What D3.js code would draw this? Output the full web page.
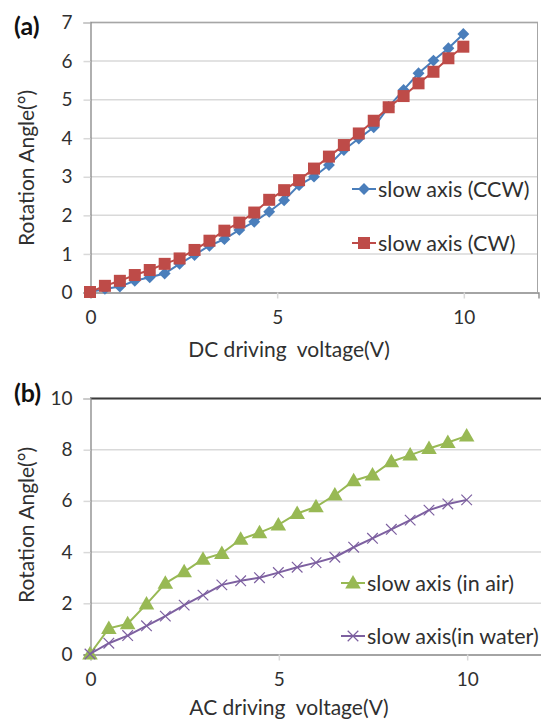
<!DOCTYPE html>
<html><head><meta charset="utf-8">
<script src="https://cdn.jsdelivr.net/npm/d3@7"></script>
<style>
body{margin:0;background:#fff;}
svg{display:block;font-family:Lato,"Open Sans",sans-serif;}
text{white-space:pre;}
</style></head>
<body><svg id="c" width="541" height="725"></svg>
<script>
// Panel (a) data: DC driving voltage
const dcVoltage = [0,0.4,0.8,1.2,1.6,2.0,2.4,2.8,3.2,3.6,4.0,4.4,4.8,5.2,5.6,6.0,6.4,6.8,7.2,7.6,8.0,8.4,8.8,9.2,9.6,10.0];
const ccw = [0,0.08,0.14,0.29,0.38,0.48,0.73,0.96,1.2,1.37,1.61,1.82,2.08,2.38,2.77,2.99,3.29,3.68,3.98,4.27,4.8,5.24,5.67,6.0,6.32,6.69];
const cw  = [0,0.16,0.29,0.44,0.57,0.73,0.87,1.09,1.33,1.59,1.8,2.06,2.39,2.64,2.9,3.2,3.51,3.81,4.11,4.44,4.79,5.08,5.41,5.71,6.06,6.36];
// Panel (b) data: AC driving voltage
const acVoltage = [0,0.5,1,1.5,2,2.5,3,3.5,4,4.5,5,5.5,6,6.5,7,7.5,8,8.5,9,9.5,10];
const inAir   = [0,1.0,1.18,1.95,2.76,3.21,3.7,3.93,4.48,4.74,5.04,5.49,5.75,6.21,6.77,6.99,7.51,7.77,8.03,8.26,8.52];
const inWater = [0,0.42,0.72,1.1,1.48,1.91,2.3,2.7,2.86,2.98,3.18,3.39,3.57,3.78,4.17,4.52,4.87,5.23,5.62,5.86,6.02];
const xTicks = [0,5,10];
const yTicksA = [0,1,2,3,4,5,6,7];
const yTicksB = [0,2,4,6,8,10];

const svg = d3.select("#c");
const gridColor = "#d9d9d9", axisColor = "#868686", textColor = "#303030";

function marker(g, type, color, x, y){
  if(type==="diamond"){
    g.append("path").attr("d", d3.symbol(d3.symbolDiamond2, 90)()).attr("transform",`translate(${x},${y})`).attr("fill",color);
  } else if(type==="square"){
    g.append("rect").attr("x",x-6).attr("y",y-6).attr("width",12).attr("height",12).attr("fill",color);
  } else if(type==="triangle"){
    g.append("path").attr("d", d3.symbol(d3.symbolTriangle, 105)()).attr("transform",`translate(${x},${y+1})`).attr("fill",color);
  } else if(type==="x"){
    g.append("path").attr("d", d3.symbol(d3.symbolX, 75)()).attr("transform",`translate(${x},${y})`).attr("fill","none").attr("stroke",color).attr("stroke-width",1.2);
  }
}

function panel(o){
  const g = svg.append("g");
  const x = d3.scaleLinear().domain([0,12]).range([90,o.right]);
  const y = d3.scaleLinear().domain([0,o.ymax]).range([o.bottom,o.top]);
  g.selectAll(null).data(o.yTicks.filter(d=>d>0)).join("line")
    .attr("x1",x(0)).attr("x2",o.right).attr("y1",d=>y(d)+0.5).attr("y2",d=>y(d)+0.5)
    .attr("stroke",gridColor).attr("stroke-width",1.5);
  g.append("line").attr("x1",90).attr("x2",o.right).attr("y1",o.top+0.5).attr("y2",o.top+0.5)
    .attr("stroke",o.topColor).attr("stroke-width",o.topWidth);
  g.append("line").attr("x1",o.right-0.5).attr("x2",o.right-0.5).attr("y1",o.top).attr("y2",o.bottom)
    .attr("stroke","#a6a6a6").attr("stroke-width",1);
  const ya = d3.axisLeft(y).tickValues(o.yTicks).tickSize(7).tickPadding(11).tickFormat(d3.format("d"));
  const yg = g.append("g").attr("transform",`translate(${x(0)+0.5},0.5)`).call(ya);
  const xa = d3.axisBottom(x).tickValues(xTicks).tickSize(6).tickPadding(12).tickFormat(d3.format("d"));
  const xg = g.append("g").attr("transform",`translate(0.5,${o.bottom+0.5})`).call(xa);
  [yg,xg].forEach(a=>{
    a.select(".domain").attr("stroke",axisColor).attr("stroke-width",1.3);
    a.selectAll(".tick line").attr("stroke",gridColor).attr("stroke-width",1.5);
    a.selectAll("text").attr("fill",textColor).attr("font-size",19).attr("font-family","Lato");
  });
  yg.selectAll(".tick line").attr("stroke",(d)=> d===0? axisColor : gridColor);
  const line = d3.line().x(d=>x(d[0])).y(d=>y(d[1]));
  o.series.forEach(s=>{
    const pts = o.xs.map((v,i)=>[v,s.values[i]]);
    g.append("path").attr("d",line(pts)).attr("fill","none").attr("stroke",s.color).attr("stroke-width",2);
    pts.forEach(p=>marker(g,s.type,s.color,x(p[0]),y(p[1])));
    const lg = g.append("g");
    lg.append("line").attr("x1",s.lx).attr("x2",s.lx+24).attr("y1",s.ly).attr("y2",s.ly).attr("stroke",s.color).attr("stroke-width",2);
    marker(lg,s.type,s.color,s.lx+12,s.ly);
    lg.append("text").attr("x",s.lx+26).attr("y",s.ly).attr("dy","0.35em").attr("fill",textColor)
      .attr("font-size",21.5).text(s.name);
  });
  g.append("text").attr("x",289).attr("y",o.xTitleY).attr("text-anchor","middle").attr("dy","0.35em")
    .attr("fill",textColor).attr("font-size",21).text(o.xTitle);
  g.append("text").attr("transform",`translate(27,${o.yTitleY}) rotate(-90)`).attr("text-anchor","middle").attr("dy","0.35em")
    .attr("fill",textColor).attr("font-size",21).text("Rotation Angle(°)");
  g.append("text").attr("x",14).attr("y",o.labelY).attr("dy","0.35em").attr("font-size",25).attr("font-weight","bold")
    .attr("fill","#111").text(o.label);
}

panel({top:22,bottom:292,right:538,ymax:7,yTicks:yTicksA,xs:dcVoltage,topColor:"#a6a6a6",topWidth:1.3,
  xTitle:"DC driving  voltage(V)",xTitleY:350,yTitleY:168,label:"(a)",labelY:26,
  series:[{name:"slow axis (CCW)",values:ccw,color:"#4a7ebb",type:"diamond",lx:352,ly:189},
          {name:"slow axis (CW)",values:cw,color:"#be4b48",type:"square",lx:352,ly:243}]});
panel({top:398,bottom:654,right:542,ymax:10,yTicks:yTicksB,xs:acVoltage,topColor:"#3a3a3a",topWidth:2,
  xTitle:"AC driving  voltage(V)",xTitleY:708,yTitleY:525,label:"(b)",labelY:393,
  series:[{name:"slow axis (in air)",values:inAir,color:"#98b954",type:"triangle",lx:341,ly:583},
          {name:"slow axis(in water)",values:inWater,color:"#7d60a0",type:"x",lx:341,ly:636}]});
</script></body></html>
